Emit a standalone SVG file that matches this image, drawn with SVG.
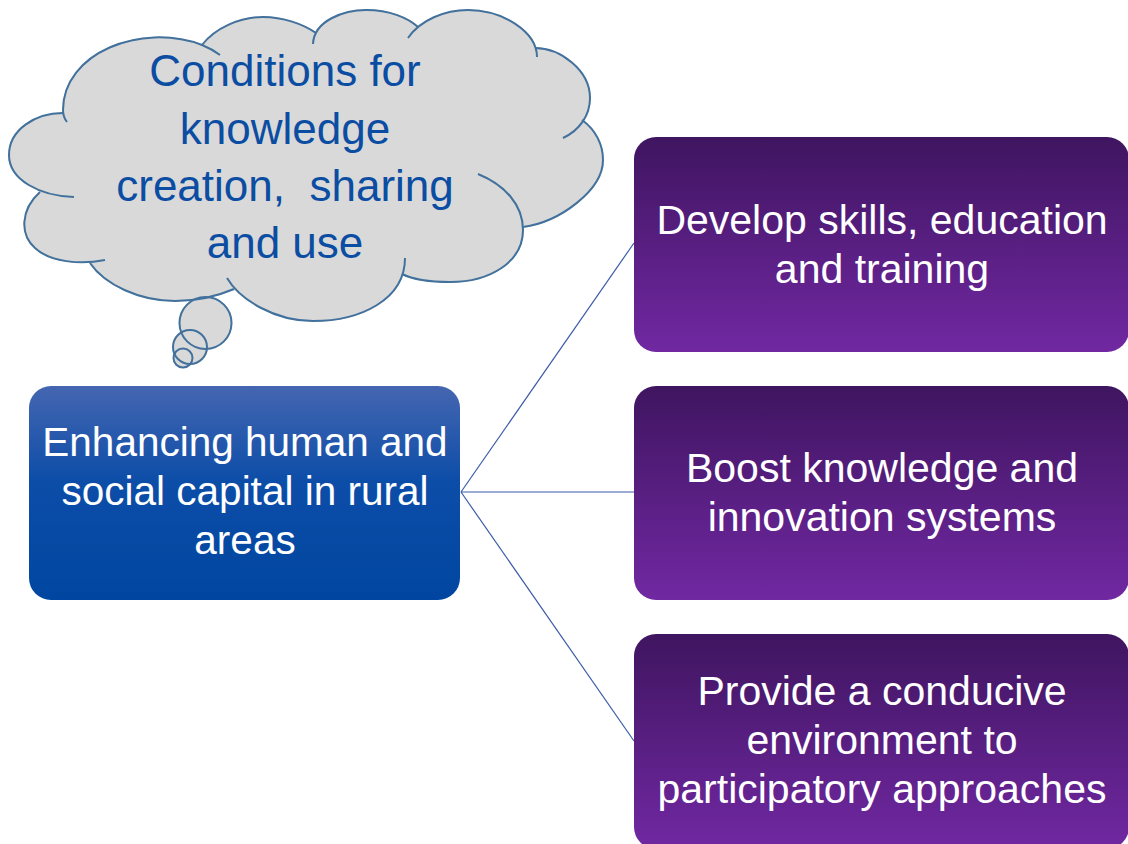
<svg xmlns="http://www.w3.org/2000/svg" xmlns:xlink="http://www.w3.org/1999/xlink" width="1128" height="844" viewBox="0 0 1128 844">
<style>
.cfill{fill:#D9D9D9;stroke:#D9D9D9;stroke-width:1.5;stroke-linejoin:round}
.cline{fill:none;stroke:#41719C;stroke-width:2}
.ctext{font-family:"Liberation Sans",Arial,sans-serif;font-size:44px;fill:#0B4DA2;text-anchor:middle;white-space:pre}
.btext{font-family:"Liberation Sans",Arial,sans-serif;font-size:41px;fill:#FFFFFF;text-anchor:middle}
.conn{stroke:#3B5BA9;stroke-width:1.2;fill:none}
</style>
<defs>
<linearGradient id="gBlue" x1="0" y1="0" x2="0" y2="1">
<stop offset="0" stop-color="#4566B1"/>
<stop offset="0.45" stop-color="#0C4DA8"/>
<stop offset="1" stop-color="#0046A0"/>
</linearGradient>
<linearGradient id="gPurple" x1="0" y1="0" x2="0" y2="1">
<stop offset="0" stop-color="#3F1560"/>
<stop offset="1" stop-color="#7128A2"/>
</linearGradient>
<path id="b1" d="M67,122 Q63,117 63,110 C63,53 141,22 202,45 Q212,49 220,55"/>
<path id="b2" d="M202,45 C215,28 240,17 263,17 C283,17 303,24 316,33"/>
<path id="b3" d="M313,44 C314,20 345,10 366,10 C390,10 408,18 418,27"/>
<path id="b4" d="M408,38 C420,20 445,10 468,10 C503,10 537,32 537,57"/>
<path id="b5" d="M535,48 C560,48 590,70 590,98 C590,115 580,130 563,138"/>
<path id="b6" d="M582,120 C596,130 603,145 603,160 C603,190 560,222 523,227"/>
<path id="b7" d="M478,174 C505,185 523,205 523,230 C523,262 490,282 450,282 C430,282 412,279 402,274"/>
<path id="b8" d="M405,258 C405,300 360,321 313,321 C275,321 240,300 227,278"/>
<path id="b9" d="M90,263 C105,285 140,301 175,301 C200,301 220,295 234,289"/>
<path id="b10" d="M105,260 C80,265 50,262 35,248 C20,235 20,210 40,192"/>
<path id="b11" d="M74,197 C40,196 9,180 9,155 C9,130 35,113 63,113"/>
</defs>

<g id="connectors">
<line class="conn" x1="461" y1="492" x2="634" y2="243"/>
<line class="conn" x1="461" y1="492" x2="634" y2="492"/>
<line class="conn" x1="461" y1="492" x2="634" y2="741"/>
</g>

<g id="node-cloud">
<polygon class="cfill" points="63,113 202,45 316,33 418,27 535,48 582,120 523,227 402,275 235,290 90,263 40,192"/>
<use xlink:href="#b1" class="cfill"/>
<use xlink:href="#b2" class="cfill"/>
<use xlink:href="#b3" class="cfill"/>
<use xlink:href="#b4" class="cfill"/>
<use xlink:href="#b5" class="cfill"/>
<use xlink:href="#b6" class="cfill"/>
<use xlink:href="#b7" class="cfill"/>
<use xlink:href="#b8" class="cfill"/>
<use xlink:href="#b9" class="cfill"/>
<use xlink:href="#b10" class="cfill"/>
<use xlink:href="#b11" class="cfill"/>
<circle class="cfill" cx="205.5" cy="323" r="26"/>
<circle class="cfill" cx="190" cy="347" r="17"/>
<circle class="cfill" cx="183" cy="358" r="9.5"/>
<use xlink:href="#b1" class="cline"/>
<use xlink:href="#b2" class="cline"/>
<use xlink:href="#b3" class="cline"/>
<use xlink:href="#b4" class="cline"/>
<use xlink:href="#b5" class="cline"/>
<use xlink:href="#b6" class="cline"/>
<use xlink:href="#b7" class="cline"/>
<use xlink:href="#b8" class="cline"/>
<use xlink:href="#b9" class="cline"/>
<use xlink:href="#b10" class="cline"/>
<use xlink:href="#b11" class="cline"/>
<circle class="cline" cx="205.5" cy="323" r="26"/>
<circle class="cline" cx="190" cy="347" r="17"/>
<circle class="cline" cx="183" cy="358" r="9.5"/>
<text class="ctext" x="285" y="86">Conditions for</text>
<text class="ctext" x="285" y="144">knowledge</text>
<text class="ctext" x="285" y="201">creation,  sharing</text>
<text class="ctext" x="285" y="258">and use</text>
</g>

<g id="node-main">
<rect x="29" y="386" width="431" height="214" rx="22" ry="22" fill="url(#gBlue)"/>
<text class="btext" x="245" y="456" style="font-size:40.5px">Enhancing human and</text>
<text class="btext" x="245" y="505" style="font-size:40.5px">social capital in rural</text>
<text class="btext" x="245" y="554" style="font-size:40.5px">areas</text>
</g>

<g id="node-skills">
<rect x="634" y="137" width="495" height="215" rx="22" ry="22" fill="url(#gPurple)"/>
<text class="btext" x="882" y="234">Develop skills, education</text>
<text class="btext" x="882" y="283">and training</text>
</g>

<g id="node-knowledge">
<rect x="634" y="386" width="495" height="214" rx="22" ry="22" fill="url(#gPurple)"/>
<text class="btext" x="882" y="482">Boost knowledge and</text>
<text class="btext" x="882" y="531">innovation systems</text>
</g>

<g id="node-environment">
<rect x="634" y="634" width="495" height="215" rx="22" ry="22" fill="url(#gPurple)"/>
<text class="btext" x="882" y="705">Provide a conducive</text>
<text class="btext" x="882" y="754">environment to</text>
<text class="btext" x="882" y="803">participatory approaches</text>
</g>
</svg>
